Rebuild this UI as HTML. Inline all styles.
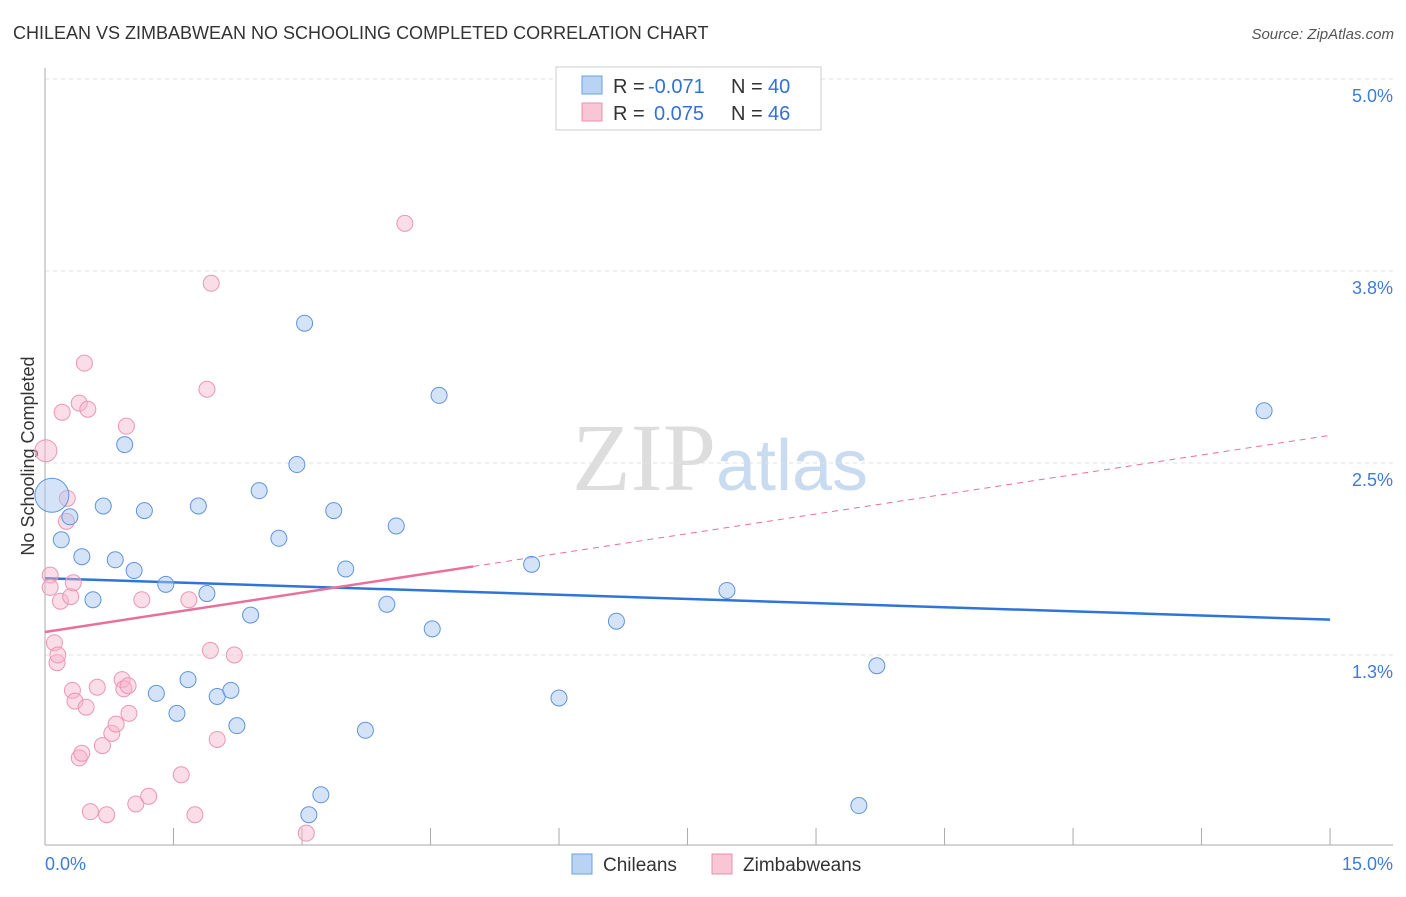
<!DOCTYPE html>
<html><head><meta charset="utf-8"><style>
body{margin:0;background:#fff;font-family:"Liberation Sans",sans-serif;}
svg text{font-family:"Liberation Sans",sans-serif;}
</style></head><body>
<svg id="chart" width="1406" height="892" xmlns="http://www.w3.org/2000/svg">
<text x="13" y="39" font-size="18" fill="#333">CHILEAN VS ZIMBABWEAN NO SCHOOLING COMPLETED CORRELATION CHART</text>
<text x="1394" y="39" font-size="15" fill="#555" text-anchor="end" font-style="italic">Source: ZipAtlas.com</text>
<text x="720" y="490" font-size="96" text-anchor="middle" fill="#ddd"><tspan font-family="Liberation Serif">ZIP</tspan><tspan fill="#c9dbf0" font-size="72">atlas</tspan></text>
<text transform="translate(34,456) rotate(-90)" font-size="18" fill="#333" text-anchor="middle">No Schooling Completed</text>
<g id="grid"></g><g id="axes"></g><g id="lines"></g><g id="pts"></g>
<g>
<rect x="556" y="67" width="265" height="63" fill="#fff" stroke="#ccc"/>
<rect x="582" y="76" width="20" height="18" fill="#b8d3f3" stroke="#6a9fe0"/>
<rect x="582" y="103" width="20" height="18" fill="#f9c6d5" stroke="#ec8fab"/>
<text x="613" y="93" font-size="20" fill="#333">R =</text>
<text x="648" y="93" font-size="20" fill="#3370d8">-0.071</text>
<text x="731" y="93" font-size="20" fill="#333">N =</text>
<text x="768" y="93" font-size="20" fill="#3370d8">40</text>
<text x="613" y="120" font-size="20" fill="#333">R =</text>
<text x="654" y="120" font-size="20" fill="#3370d8">0.075</text>
<text x="731" y="120" font-size="20" fill="#333">N =</text>
<text x="768" y="120" font-size="20" fill="#3370d8">46</text>
</g>
<g>
<rect x="572" y="854" width="20" height="20" fill="#b8d3f3" stroke="#6a9fe0"/>
<text x="603" y="871" font-size="19" fill="#333">Chileans</text>
<rect x="712" y="854" width="20" height="20" fill="#f9c6d5" stroke="#ec8fab"/>
<text x="743" y="871" font-size="19" fill="#333">Zimbabweans</text>
</g>
</svg>
<script>
const yTicks=[1.25,2.5,3.75,5.0];
const yTickLabels=["1.3%","2.5%","3.8%","5.0%"];
const xTickLabels=["0.0%","15.0%"];
const chileX=[0.08,0.19,0.29,0.43,0.56,0.68,0.82,0.93,1.04,1.16,1.30,1.41,1.54,1.67,1.79,1.89,2.01,2.17,2.24,2.40,2.50,2.73,2.94,3.03,3.08,3.22,3.37,3.51,3.74,3.99,4.10,4.52,4.60,5.68,6.00,6.67,7.96,9.50,9.71,14.23];
const chileY=[2.29,2.00,2.15,1.89,1.61,2.22,1.87,2.62,1.80,2.19,1.00,1.71,0.87,1.09,2.22,1.65,0.98,1.02,0.79,1.51,2.32,2.01,2.49,3.41,0.21,0.34,2.19,1.81,0.76,1.58,2.09,1.42,2.94,1.84,0.97,1.47,1.67,0.27,1.18,2.84];
const zimX=[0.01,0.06,0.06,0.11,0.14,0.15,0.20,0.18,0.26,0.25,0.30,0.33,0.32,0.35,0.40,0.40,0.43,0.46,0.50,0.48,0.53,0.61,0.67,0.72,0.78,0.83,0.90,0.92,0.95,0.97,0.98,1.06,1.13,1.21,1.59,1.68,1.75,1.89,1.93,1.94,2.01,2.21,3.05,4.20];
const zimY=[2.58,1.77,1.69,1.33,1.20,1.25,2.83,1.60,2.27,2.12,1.63,1.72,1.02,0.95,2.89,0.58,0.61,3.15,2.85,0.91,0.23,1.04,0.66,0.21,0.74,0.80,1.09,1.03,2.74,1.05,0.87,0.28,1.61,0.33,0.47,1.61,0.21,2.98,1.28,3.67,0.70,1.25,0.09,4.06];
const chileTrend=[1.75,1.48];
const zimTrend=[1.40,2.68];
const zimSolidEnd=5.0;
const NS="http://www.w3.org/2000/svg";
const X=v=>45+v*85.67, Y=v=>847-v*153.6;
function mk(tag,attrs,parent){const e=document.createElementNS(NS,tag);for(const k in attrs)e.setAttribute(k,attrs[k]);document.getElementById(parent).appendChild(e);return e;}
yTicks.forEach((t,i)=>{
 const g=mk('line',{x1:45,x2:1393,y1:Y(t),y2:Y(t),stroke:'#e2e2e2','stroke-dasharray':'4,4'},'grid');
 
 
 const l=mk('text',{x:1393,y:Y(t)+23,'font-size':18,fill:'#3f7bd8','text-anchor':'end'},'grid');
 
 
 l.textContent=yTickLabels[i];
});
const ax=mk('line',{x1:45,x2:1393,y1:845,y2:845,stroke:'#aaa'},'axes');


const ay=mk('line',{x1:45,x2:45,y1:68,y2:845,stroke:'#aaa'},'axes');


for(let i=1;i<=10;i++){
 const t=mk('line',{x1:X(i*1.5),x2:X(i*1.5),y1:828,y2:845,stroke:'#aaa'},'axes');
 
 
}
[[0,'start',45],[15,'end',1393]].forEach((d,i)=>{
 const l=mk('text',{x:d[2],y:870,'font-size':18,fill:'#3f7bd8','text-anchor':d[1]},'axes');
 
 
 l.textContent=xTickLabels[i];
});
const bl=mk('line',{x1:X(0),x2:X(15),y1:Y(chileTrend[0]),y2:Y(chileTrend[1]),stroke:'#2f74d8','stroke-width':2.5},'lines');


const zy=x=>zimTrend[0]+(zimTrend[1]-zimTrend[0])*x/15;
const pl=mk('line',{x1:X(0),x2:X(zimSolidEnd),y1:Y(zy(0)),y2:Y(zy(zimSolidEnd)),stroke:'#e8709a','stroke-width':2.5},'lines');


const pd=mk('line',{x1:X(zimSolidEnd),x2:X(15),y1:Y(zy(zimSolidEnd)),y2:Y(zy(15)),stroke:'#e8709a','stroke-width':1,'stroke-dasharray':'6,5'},'lines');


zimX.forEach((x,i)=>{
 const c=mk('circle',{cx:X(x),cy:Y(zimY[i]),r:i==0?11:8,fill:'rgba(247,180,202,0.45)',stroke:'#eb97b2','stroke-width':1},'pts');
 
 
});
chileX.forEach((x,i)=>{
 const c=mk('circle',{cx:X(x),cy:Y(chileY[i]),r:i==0?17:8,fill:'rgba(170,200,240,0.5)',stroke:'#5f95dd','stroke-width':1},'pts');
 
 
});
</script>
</body></html>
